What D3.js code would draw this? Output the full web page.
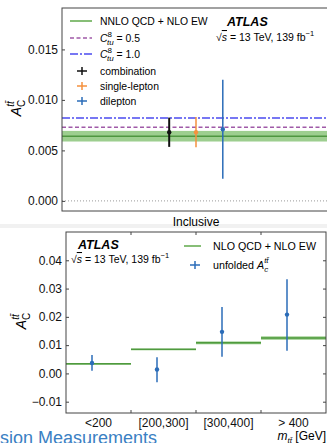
<!DOCTYPE html>
<html>
<head>
<meta charset="utf-8">
<script src="https://cdn.jsdelivr.net/npm/d3@7"></script>
<style>
  body { margin: 0; background: #fff; }
  svg { display: block; font-family: "Liberation Sans", Arial, sans-serif; }
</style>
</head>
<body>
<svg id="chart" width="327" height="443"></svg>
<script>
// top panel: inclusive
const incCategories = ["Inclusive"];
const incSeries = ["combination", "single-lepton", "dilepton"];
const incValues = [0.0068, 0.0068, 0.0071];
const incErrors = [0.00145, 0.0015, 0.0049];
const incPred = 0.0064;
const incPredBand = [0.00588, 0.00693];
const incC8 = [0.0073, 0.0082];          // C8_tu = 0.5, 1.0
const incTicks = [0.000, 0.005, 0.010, 0.015];

// bottom panel: m_tt differential
const massBins = ["<200", "[200,300]", "[300,400]", "> 400"];
const massPred = [0.0034, 0.0085, 0.0108, 0.0125];
const massPredUnc = [0.0002, 0.0002, 0.0005, 0.0006];
const massValues = [0.0037, 0.0014, 0.0147, 0.0208];
const massErrUp = [0.0028, 0.0043, 0.0088, 0.0125];
const massErrDown = [0.0028, 0.0045, 0.0088, 0.0128];
const massTicks = [-0.01, 0.00, 0.01, 0.02, 0.03, 0.04];

const colors = {
  combination: "#111111",
  "single-lepton": "#f5913e",
  dilepton: "#2b6cb8",
  green: "#5fa84a",
  band: "#8cc67b",
  purple: "#a05aa8",
  blue: "#4b4bef",
  frame: "#444"
};

const svg = d3.select("#chart");

// faint strip between the panels (slide background)
svg.append("rect").attr("x", 0).attr("y", 224).attr("width", 327).attr("height", 4).attr("fill", "#f1f1f1");

// helper for A_C^tt label
function acLabel(g) {
  g.append("tspan").text("A").style("font-style", "italic");
  g.append("tspan").text("C").attr("dy", 4).style("font-size", "10px");
  g.append("tspan").text("tt\u0304").attr("dx", -7).attr("dy", -11).style("font-size", "10px").style("font-style", "italic");
}

function sqrtText(g, x, y, size) {
  const t = g.append("text").attr("x", x).attr("y", y).style("font-size", size + "px");
  t.append("tspan").text("\u221A");
  t.append("tspan").text("s").style("font-style", "italic").style("text-decoration", "overline");
  t.append("tspan").text(" = 13 TeV, 139 fb");
  t.append("tspan").text("\u22121").attr("dy", -5).style("font-size", (size - 3) + "px");
  return t;
}

// ---------------- top panel ----------------
{
  const m = { left: 62, right: 330, top: 8, bottom: 211 };
  const x = d3.scaleBand().domain(incCategories).range([m.left, m.right]);
  const off = d3.scalePoint().domain(incSeries).range([-0.1, 0.1]);
  const y = d3.scaleLinear().domain([-0.001, 0.0191]).range([m.bottom, m.top]);
  const g = svg.append("g");
  const bx = c => x(c) + x.bandwidth() / 2;

  // band + central prediction
  g.append("rect").attr("x", m.left).attr("width", m.right - m.left)
    .attr("y", y(incPredBand[1])).attr("height", y(incPredBand[0]) - y(incPredBand[1]))
    .attr("fill", colors.band).attr("opacity", 0.85);
  g.append("line").attr("x1", m.left).attr("x2", m.right).attr("y1", y(incPred)).attr("y2", y(incPred))
    .attr("stroke", "#4f9640").attr("stroke-width", 1.5);
  g.append("line").attr("x1", m.left).attr("x2", m.right).attr("y1", y(incC8[0])).attr("y2", y(incC8[0]))
    .attr("stroke", colors.purple).attr("stroke-width", 1.5).attr("stroke-dasharray", "4,2.5");
  g.append("line").attr("x1", m.left).attr("x2", m.right).attr("y1", y(incC8[1])).attr("y2", y(incC8[1]))
    .attr("stroke", colors.blue).attr("stroke-width", 1.5).attr("stroke-dasharray", "8,2,2,2");
  g.append("line").attr("x1", m.left).attr("x2", m.right).attr("y1", y(0)).attr("y2", y(0))
    .attr("stroke", "#999").attr("stroke-width", 1).attr("stroke-dasharray", "1,2");

  // measurements
  incSeries.forEach((s, i) => {
    const px = bx("Inclusive") + off(s) * (m.right - m.left);
    g.append("line").attr("x1", px).attr("x2", px)
      .attr("y1", y(incValues[i] + incErrors[i])).attr("y2", y(incValues[i] - incErrors[i]))
      .attr("stroke", colors[s]).attr("stroke-width", s === "combination" ? 2 : 1.5);
    g.append("circle").attr("cx", px).attr("cy", y(incValues[i])).attr("r", 2.2).attr("fill", colors[s]);
  });

  // frame
  g.append("rect").attr("x", m.left).attr("y", m.top).attr("width", m.right - m.left).attr("height", m.bottom - m.top)
    .attr("fill", "none").attr("stroke", colors.frame).attr("stroke-width", 1);

  const ya = g.append("g").attr("transform", `translate(${m.left},0)`)
    .call(d3.axisLeft(y).tickValues(incTicks).tickFormat(d3.format(".3f")).tickSizeInner(-3).tickSizeOuter(0).tickPadding(4));
  ya.select(".domain").remove();
  ya.selectAll("text").style("font-size", "12px").attr("fill", "#111").attr("font-family", "Liberation Sans, Arial, sans-serif");
  ya.selectAll("line").attr("stroke", colors.frame);

  g.append("text").attr("x", bx("Inclusive")).attr("y", 226).attr("text-anchor", "middle")
    .style("font-size", "12px").text("Inclusive");

  const yl = g.append("text").attr("transform", "translate(21,108) rotate(-90)").attr("text-anchor", "middle").style("font-size", "14px");
  acLabel(yl);

  // legend
  const lg = g.append("g").style("font-size", "10.4px");
  const rows = [21, 38, 54, 71, 86, 101];
  const lineRow = (yy, color, dash) => lg.append("line").attr("x1", 70).attr("x2", 92).attr("y1", yy).attr("y2", yy)
    .attr("stroke", color).attr("stroke-width", 1.5).attr("stroke-dasharray", dash);
  lineRow(rows[0], colors.green, null);
  lineRow(rows[1], colors.purple, "4,2.5");
  lineRow(rows[2], colors.blue, "8,2,2,2");
  lg.append("text").attr("x", 100).attr("y", rows[0] + 4).text("NNLO QCD + NLO EW");
  incC8.forEach((v, i) => {
    const t = lg.append("text").attr("x", 100).attr("y", rows[i + 1] + 4);
    t.append("tspan").text("C").style("font-style", "italic");
    t.append("tspan").text("8").attr("dy", -5).style("font-size", "8px");
    t.append("tspan").text("tu").attr("dx", -5).attr("dy", 8).style("font-size", "8px").style("font-style", "italic");
    t.append("tspan").text(i === 0 ? " = 0.5" : " = 1.0").attr("dy", -3);
  });
  incSeries.forEach((s, i) => {
    const yy = rows[i + 3];
    lg.append("line").attr("x1", 77).attr("x2", 87).attr("y1", yy).attr("y2", yy).attr("stroke", colors[s]).attr("stroke-width", 1.5);
    lg.append("line").attr("x1", 82).attr("x2", 82).attr("y1", yy - 4).attr("y2", yy + 4).attr("stroke", colors[s]).attr("stroke-width", 1.5);
    lg.append("text").attr("x", 100).attr("y", yy + 4).text(s);
  });

  g.append("text").attr("x", 227).attr("y", 26).style("font-size", "12.5px").style("font-weight", "bold").style("font-style", "italic").text("ATLAS");
  sqrtText(g, 216, 41, 10.5);
}

// ---------------- bottom panel ----------------
{
  const m = { left: 66, right: 326, top: 232, bottom: 413 };
  const x = d3.scaleBand().domain(massBins).range([m.left, m.right]).padding(0);
  const y = d3.scaleLinear().domain([-0.014, 0.05]).range([m.bottom, m.top]);
  const g = svg.append("g");
  const bw = x.bandwidth();

  massBins.forEach((b, i) => {
    g.append("rect").attr("x", x(b)).attr("width", bw)
      .attr("y", y(massPred[i] + massPredUnc[i])).attr("height", Math.max(1.5, y(massPred[i] - massPredUnc[i]) - y(massPred[i] + massPredUnc[i])))
      .attr("fill", colors.band).attr("opacity", 0.9);
    g.append("line").attr("x1", x(b)).attr("x2", x(b) + bw).attr("y1", y(massPred[i])).attr("y2", y(massPred[i]))
      .attr("stroke", "#4f9a3e").attr("stroke-width", 1.5);
  });

  massBins.forEach((b, i) => {
    const px = x(b) + bw * 0.4;
    g.append("line").attr("x1", px).attr("x2", px)
      .attr("y1", y(massValues[i] + massErrUp[i])).attr("y2", y(massValues[i] - massErrDown[i]))
      .attr("stroke", colors.dilepton).attr("stroke-width", 1.5);
    g.append("circle").attr("cx", px).attr("cy", y(massValues[i])).attr("r", 2.2).attr("fill", colors.dilepton);
  });

  g.append("rect").attr("x", m.left).attr("y", m.top).attr("width", m.right - m.left).attr("height", m.bottom - m.top)
    .attr("fill", "none").attr("stroke", colors.frame).attr("stroke-width", 1);

  const ya = g.append("g").attr("transform", `translate(${m.left},0)`)
    .call(d3.axisLeft(y).tickValues(massTicks).tickFormat(d => d3.format(".2f")(d).replace("-", "\u2212")).tickSizeInner(-3).tickSizeOuter(0).tickPadding(4));
  ya.select(".domain").remove();
  ya.selectAll("text").style("font-size", "12px").attr("fill", "#111").attr("font-family", "Liberation Sans, Arial, sans-serif");
  ya.selectAll("line").attr("stroke", colors.frame);

  const yr = g.append("g").attr("transform", `translate(${m.right},0)`)
    .call(d3.axisRight(y).tickValues(massTicks).tickFormat("").tickSizeInner(-3).tickSizeOuter(0));
  yr.select(".domain").remove();
  yr.selectAll("line").attr("stroke", colors.frame);

  // bin edge ticks, bottom and top
  const edges = massBins.slice(1).map(b => x(b));
  edges.forEach(ex => {
    g.append("line").attr("x1", ex).attr("x2", ex).attr("y1", m.bottom).attr("y2", m.bottom - 3).attr("stroke", colors.frame);
    g.append("line").attr("x1", ex).attr("x2", ex).attr("y1", m.top).attr("y2", m.top + 3).attr("stroke", colors.frame);
  });

  const xa = g.append("g").attr("transform", `translate(0,${m.bottom})`)
    .call(d3.axisBottom(x).tickSize(0).tickPadding(5));
  xa.select(".domain").remove();
  xa.selectAll("text").style("font-size", "12px").attr("fill", "#111").attr("font-family", "Liberation Sans, Arial, sans-serif");

  const xl = g.append("text").attr("x", m.right).attr("y", 440).attr("text-anchor", "end").style("font-size", "12px");
  xl.append("tspan").text("m").style("font-style", "italic");
  xl.append("tspan").text("tt\u0304").attr("dy", 3).style("font-size", "8px").style("font-style", "italic");
  xl.append("tspan").text(" [GeV]").attr("dy", -3);

  const yl = g.append("text").attr("transform", "translate(26,321) rotate(-90)").attr("text-anchor", "middle").style("font-size", "14px");
  acLabel(yl);

  g.append("text").attr("x", 78).attr("y", 249).style("font-size", "12.5px").style("font-weight", "bold").style("font-style", "italic").text("ATLAS");
  sqrtText(g, 71, 263, 10.5);

  g.append("line").attr("x1", 184).attr("x2", 201).attr("y1", 246).attr("y2", 246).attr("stroke", colors.green).attr("stroke-width", 1.5);
  g.append("text").attr("x", 213).attr("y", 250).style("font-size", "10.7px").text("NLO QCD + NLO EW");
  g.append("line").attr("x1", 190).attr("x2", 200).attr("y1", 265).attr("y2", 265).attr("stroke", colors.dilepton).attr("stroke-width", 1.5);
  g.append("line").attr("x1", 195).attr("x2", 195).attr("y1", 261).attr("y2", 269).attr("stroke", colors.dilepton).attr("stroke-width", 1.5);
  const ul = g.append("text").attr("x", 213).attr("y", 269).style("font-size", "10.7px");
  ul.append("tspan").text("unfolded ");
  ul.append("tspan").text("A").style("font-style", "italic");
  ul.append("tspan").text("c").attr("dy", 3).style("font-size", "8px").style("font-style", "italic");
  ul.append("tspan").text("tt\u0304").attr("dx", -4).attr("dy", -9).style("font-size", "8px").style("font-style", "italic");
}

// slide footer text, cut off at the left and bottom
svg.append("text").attr("x", 157).attr("y", 444).attr("text-anchor", "end")
  .style("font-size", "18px").attr("fill", "#3a80c3").text("Precision Measurements");
</script>
</body>
</html>
